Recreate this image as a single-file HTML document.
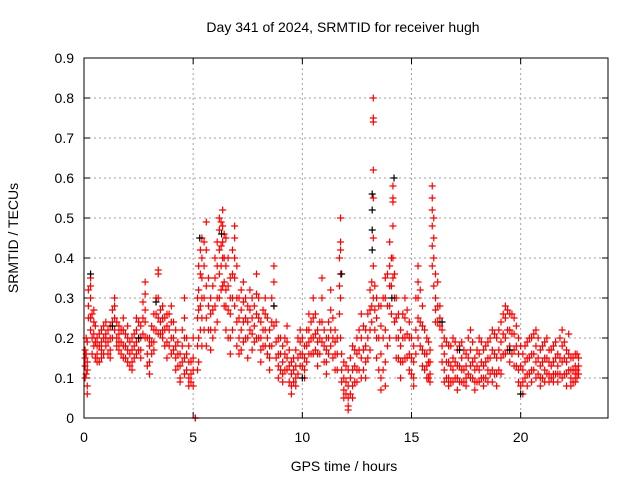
<!DOCTYPE html>
<html><head><meta charset="utf-8"><style>
html,body{margin:0;padding:0;background:#fff;}
svg{display:block;font-family:"Liberation Sans",sans-serif;}
</style></head><body>
<svg id="chart" width="640" height="480" viewBox="0 0 640 480">
<rect width="640" height="480" fill="#fff"/>
<text x="343" y="32" font-size="14" text-anchor="middle">Day 341 of 2024, SRMTID for receiver hugh</text>
<text x="344" y="471" font-size="14" text-anchor="middle">GPS time / hours</text>
<text transform="translate(18,238) rotate(-90)" font-size="14" text-anchor="middle">SRMTID / TECUs</text>
<g id="grid"></g><g id="ticks"></g><g id="red"></g><g id="black"></g>
<rect x="84" y="58" width="524" height="360" fill="none" stroke="#000" stroke-width="1"/>
</svg>
<script>
const xTicks=[0,5,10,15,20];
const yTicks=[0,0.1,0.2,0.3,0.4,0.5,0.6,0.7,0.8,0.9];
const yTickLabels=["0","0.1","0.2","0.3","0.4","0.5","0.6","0.7","0.8","0.9"];
const redTimes=[0.05,0.15,0.3,0.45,0.6,0.8,1.0,1.2,1.4,1.6,1.8,2.0,2.2,2.4,2.6,2.8,3.0,3.2,3.4,3.6,3.8,4.0,4.2,4.4,4.6,4.8,5.0,5.1,5.25,5.4,5.6,5.8,6.0,6.2,6.35,6.5,6.7,6.9,7.1,7.3,7.5,7.7,7.9,8.1,8.3,8.5,8.7,8.9,9.1,9.3,9.5,9.7,9.9,10.1,10.3,10.5,10.7,10.9,11.1,11.3,11.5,11.75,11.9,12.1,12.3,12.5,12.7,12.9,13.1,13.25,13.4,13.6,13.8,14.0,14.15,14.3,14.5,14.7,14.9,15.1,15.3,15.5,15.7,15.85,15.95,16.1,16.3,16.5,16.7,16.9,17.1,17.3,17.5,17.7,17.9,18.1,18.3,18.5,18.7,18.9,19.1,19.3,19.5,19.7,19.9,20.1,20.3,20.5,20.7,20.9,21.1,21.3,21.5,21.7,21.9,22.1,22.3,22.5,22.65];
const redValues=[[0.17,0.13,0.1,0.15],[0.12,0.08,0.06,0.14,0.19],[0.35,0.33,0.3,0.25,0.22],[0.27,0.24,0.21,0.18],[0.2,0.16,0.14,0.18],[0.22,0.19,0.17,0.15],[0.24,0.21,0.18,0.2],[0.2,0.17,0.15,0.23],[0.3,0.28,0.25,0.22],[0.19,0.21,0.23,0.17],[0.25,0.22,0.18,0.15],[0.23,0.2,0.17,0.14],[0.17,0.14,0.12,0.2],[0.22,0.19,0.16,0.25],[0.23,0.2,0.17,0.15],[0.34,0.31,0.27,0.24,0.2],[0.18,0.14,0.11,0.2],[0.26,0.22,0.19,0.17],[0.37,0.36,0.3,0.25,0.21],[0.28,0.25,0.22,0.2],[0.26,0.23,0.19,0.15],[0.28,0.24,0.2,0.16],[0.22,0.18,0.15,0.12],[0.16,0.13,0.1,0.09],[0.3,0.25,0.2,0.15,0.11],[0.18,0.14,0.1,0.08],[0.15,0.12,0.08,0.2],[0,0],[0.38,0.32,0.27,0.2,0.14],[0.45,0.4,0.35,0.3,0.25,0.18],[0.49,0.42,0.33,0.25,0.18],[0.3,0.26,0.22,0.17],[0.4,0.35,0.28,0.22],[0.5,0.47,0.42,0.36,0.3],[0.52,0.48,0.44,0.4,0.33],[0.45,0.38,0.32,0.28,0.22],[0.35,0.3,0.26,0.2,0.16],[0.48,0.45,0.4,0.35,0.28],[0.3,0.25,0.2,0.16],[0.34,0.29,0.24,0.19],[0.28,0.24,0.2,0.15],[0.3,0.25,0.21,0.17],[0.36,0.31,0.26,0.2],[0.24,0.2,0.17,0.14],[0.3,0.26,0.22,0.18],[0.22,0.18,0.15,0.12],[0.38,0.34,0.28,0.23],[0.2,0.16,0.13,0.1],[0.18,0.14,0.11,0.09],[0.23,0.19,0.15,0.12],[0.14,0.11,0.08,0.06],[0.17,0.13,0.1,0.08],[0.22,0.19,0.16,0.13],[0.18,0.15,0.12,0.1],[0.26,0.22,0.19,0.16],[0.3,0.25,0.2,0.16],[0.22,0.19,0.16,0.13],[0.35,0.3,0.24,0.19],[0.2,0.17,0.14,0.11],[0.32,0.27,0.22,0.18],[0.22,0.19,0.16,0.12],[0.5,0.44,0.42,0.36,0.3,0.2],[0.14,0.1,0.07,0.05],[0.12,0.08,0.05,0.03,0.02],[0.18,0.12,0.08,0.05],[0.2,0.16,0.12,0.09],[0.26,0.2,0.15,0.1],[0.22,0.18,0.14,0.1],[0.32,0.27,0.22,0.17],[0.8,0.75,0.74,0.62,0.55,0.45,0.38,0.3],[0.3,0.25,0.2,0.15],[0.28,0.23,0.16,0.1,0.07],[0.35,0.3,0.22,0.14,0.08],[0.44,0.38,0.33,0.28,0.2],[0.58,0.55,0.54,0.48,0.4,0.35],[0.3,0.25,0.2,0.15],[0.22,0.18,0.14,0.1],[0.3,0.25,0.2,0.15],[0.24,0.2,0.16,0.12],[0.18,0.14,0.1,0.08],[0.38,0.34,0.3,0.25,0.2],[0.28,0.23,0.17,0.13],[0.2,0.16,0.13,0.1],[0.17,0.14,0.11,0.09],[0.58,0.55,0.52,0.48,0.43,0.38],[0.36,0.3,0.27,0.24],[0.28,0.25,0.23],[0.2,0.16,0.12,0.09],[0.18,0.14,0.1,0.08],[0.2,0.15,0.12,0.09],[0.17,0.13,0.1,0.07],[0.19,0.15,0.12,0.09],[0.16,0.13,0.1,0.08],[0.22,0.17,0.13,0.1],[0.15,0.12,0.09,0.07],[0.2,0.16,0.12,0.09],[0.17,0.13,0.1,0.08],[0.19,0.15,0.12,0.09],[0.22,0.17,0.12,0.09],[0.2,0.15,0.11,0.08],[0.24,0.19,0.15,0.11],[0.28,0.25,0.2,0.16],[0.26,0.22,0.18,0.14],[0.25,0.21,0.17,0.13],[0.2,0.16,0.12,0.09],[0.16,0.12,0.09,0.06],[0.19,0.15,0.11,0.08],[0.2,0.16,0.12,0.09],[0.22,0.18,0.14,0.1],[0.17,0.13,0.1,0.08],[0.19,0.15,0.12,0.09],[0.17,0.14,0.11,0.09],[0.18,0.14,0.11,0.09],[0.16,0.13,0.11,0.09],[0.22,0.18,0.14,0.1],[0.17,0.14,0.11,0.08],[0.15,0.12,0.1,0.08],[0.16,0.13,0.11,0.09],[0.15,0.13,0.11]];
const redTimes2=[0.1,0.2,0.37,0.52,0.7,0.9,1.1,1.3,1.5,1.7,1.9,2.1,2.3,2.5,2.7,2.9,3.1,3.3,3.5,3.7,3.9,4.1,4.3,4.5,4.7,4.9,5.2,5.33,5.5,5.7,5.9,6.1,6.28,6.42,6.6,6.8,7.0,7.2,7.4,7.6,7.8,8.0,8.2,8.4,8.6,8.8,9.0,9.2,9.4,9.6,9.8,10.0,10.2,10.4,10.6,10.8,11.0,11.2,11.4,11.6,11.7,11.8,12.0,12.2,12.4,12.6,12.8,13.0,13.18,13.32,13.5,13.7,13.9,14.08,14.22,14.4,14.6,14.8,15.0,15.2,15.4,15.6,15.78,16.02,16.2,16.4,16.6,16.8,17.0,17.2,17.4,17.6,17.8,18.0,18.2,18.4,18.6,18.8,19.0,19.2,19.4,19.6,19.8,20.0,20.2,20.4,20.6,20.8,21.0,21.2,21.4,21.6,21.8,22.0,22.2,22.4,22.58];
const redValues2=[[0.16,0.2,0.11],[0.28,0.32,0.25],[0.26,0.2,0.16],[0.23,0.19,0.15],[0.21,0.18,0.14],[0.2,0.23,0.16],[0.19,0.16,0.22],[0.27,0.24,0.2],[0.2,0.18,0.24],[0.22,0.19,0.16],[0.21,0.18,0.15],[0.19,0.16,0.13],[0.21,0.18,0.15],[0.24,0.2,0.17],[0.29,0.25,0.21],[0.2,0.16,0.13],[0.23,0.19,0.16],[0.3,0.26,0.22],[0.27,0.24,0.21],[0.25,0.22,0.18],[0.26,0.22,0.18],[0.24,0.2,0.17],[0.19,0.16,0.13],[0.22,0.18,0.14],[0.2,0.16,0.12],[0.14,0.11,0.09],[0.3,0.25,0.18,0.12],[0.42,0.36,0.28,0.22],[0.44,0.38,0.3,0.22],[0.35,0.28,0.22],[0.33,0.27,0.2],[0.44,0.38,0.3,0.24],[0.49,0.43,0.38,0.32],[0.46,0.4,0.34,0.28],[0.4,0.33,0.27,0.2],[0.42,0.36,0.3,0.22],[0.38,0.3,0.24,0.18],[0.32,0.27,0.22,0.17],[0.3,0.25,0.2],[0.32,0.27,0.22],[0.28,0.23,0.19],[0.3,0.25,0.2],[0.27,0.22,0.18],[0.25,0.2,0.16],[0.3,0.24,0.18],[0.24,0.19,0.15],[0.2,0.16,0.12],[0.2,0.16,0.12],[0.17,0.13,0.09],[0.15,0.12,0.09],[0.2,0.15,0.11],[0.2,0.16,0.13],[0.22,0.18,0.14],[0.24,0.2,0.16],[0.26,0.21,0.17],[0.24,0.2,0.16],[0.22,0.18,0.14],[0.24,0.2,0.16],[0.25,0.2,0.15],[0.2,0.16,0.12],[0.4,0.33,0.26],[0.16,0.12,0.09],[0.13,0.09,0.06],[0.15,0.1,0.06],[0.17,0.13,0.09],[0.22,0.17,0.12],[0.23,0.17,0.12],[0.26,0.2,0.15],[0.34,0.28,0.24],[0.33,0.27,0.22],[0.28,0.2,0.12],[0.3,0.2,0.12],[0.36,0.28,0.18],[0.4,0.33,0.26],[0.36,0.3,0.24],[0.26,0.2,0.15],[0.26,0.2,0.14],[0.27,0.21,0.15],[0.2,0.15,0.11],[0.3,0.22,0.16],[0.32,0.24,0.18],[0.22,0.16,0.12],[0.19,0.14,0.1],[0.5,0.45,0.4,0.33],[0.34,0.28,0.24],[0.22,0.18,0.14],[0.19,0.14,0.1],[0.18,0.13,0.09],[0.19,0.14,0.1],[0.18,0.13,0.09],[0.17,0.12,0.09],[0.2,0.15,0.11],[0.19,0.14,0.1],[0.17,0.13,0.09],[0.19,0.14,0.1],[0.18,0.14,0.1],[0.2,0.15,0.11],[0.21,0.16,0.11],[0.22,0.17,0.12],[0.26,0.21,0.16],[0.27,0.22,0.17],[0.26,0.21,0.16],[0.23,0.18,0.13],[0.18,0.13,0.08],[0.18,0.14,0.1],[0.2,0.15,0.11],[0.21,0.16,0.12],[0.2,0.15,0.11],[0.18,0.14,0.1],[0.2,0.15,0.11],[0.17,0.13,0.1],[0.19,0.15,0.11],[0.2,0.15,0.11],[0.19,0.15,0.11],[0.21,0.16,0.12],[0.15,0.12,0.09],[0.16,0.12,0.1]];
const blackTimes=[0.3,1.3,2.5,3.3,5.3,6.3,8.7,10.0,11.8,13.2,13.2,13.2,13.2,14.1,14.2,16.4,17.2,19.5,20.0];
const blackValues=[0.36,0.23,0.2,0.29,0.45,0.46,0.28,0.1,0.36,0.56,0.52,0.47,0.42,0.3,0.6,0.24,0.17,0.17,0.06];
const NS='http://www.w3.org/2000/svg';
const L=84,R=608,T=58,B=418;
function xs(t){return L+t*(R-L)/24;}
function ys(v){return B-v*(B-T)/0.9;}
function mk(tag,attrs,parent){const e=document.createElementNS(NS,tag);for(const k in attrs)e.setAttribute(k,attrs[k]);parent.appendChild(e);return e;}
const grid=document.getElementById('grid'),ticks=document.getElementById('ticks');
yTicks.forEach((v,i)=>{const y=ys(v);
 if(i>0&&i<yTicks.length-1){const g=mk('line',{x1:L,x2:R,y1:y,y2:y,stroke:'#a0a0a0','stroke-dasharray':'2,3'},grid);
 
 }
 mk('line',{x1:L,x2:L+6,y1:y,y2:y,stroke:'#000'},ticks);mk('line',{x1:R,x2:R-6,y1:y,y2:y,stroke:'#000'},ticks);
 const t=mk('text',{x:L-10,y:y+5,'font-size':14,'text-anchor':'end'},ticks);t.textContent=yTickLabels[i];
 
 });
xTicks.forEach((v,i)=>{const x=xs(v);
 if(i>0){const g=mk('line',{x1:x,x2:x,y1:T,y2:B,stroke:'#a0a0a0','stroke-dasharray':'2,3'},grid);
 
 }
 mk('line',{x1:x,x2:x,y1:B,y2:B-6,stroke:'#000'},ticks);mk('line',{x1:x,x2:x,y1:T,y2:T+6,stroke:'#000'},ticks);
 const t=mk('text',{x:x,y:B+24,'font-size':14,'text-anchor':'middle'},ticks);t.textContent=String(v);
 
 });
function plus(x,y,color,parent,name){const p=mk('path',{d:`M${x-3.5},${y}h7M${x},${y-3.5}v7`,stroke:color,'stroke-width':1.2,fill:'none'},parent);
 
 }
const red=document.getElementById('red'),black=document.getElementById('black');
blackTimes.forEach((t,i)=>plus(xs(t),ys(blackValues[i]),'#000000',black,'black-point'));
redTimes.forEach((t,i)=>redValues[i].forEach(v=>plus(xs(t),ys(v),'#ff0000',red,'red-point')));
redTimes2.forEach((t,i)=>redValues2[i].forEach(v=>plus(xs(t),ys(v),'#ff0000',red,'red-point')));
</script>
</body></html>
